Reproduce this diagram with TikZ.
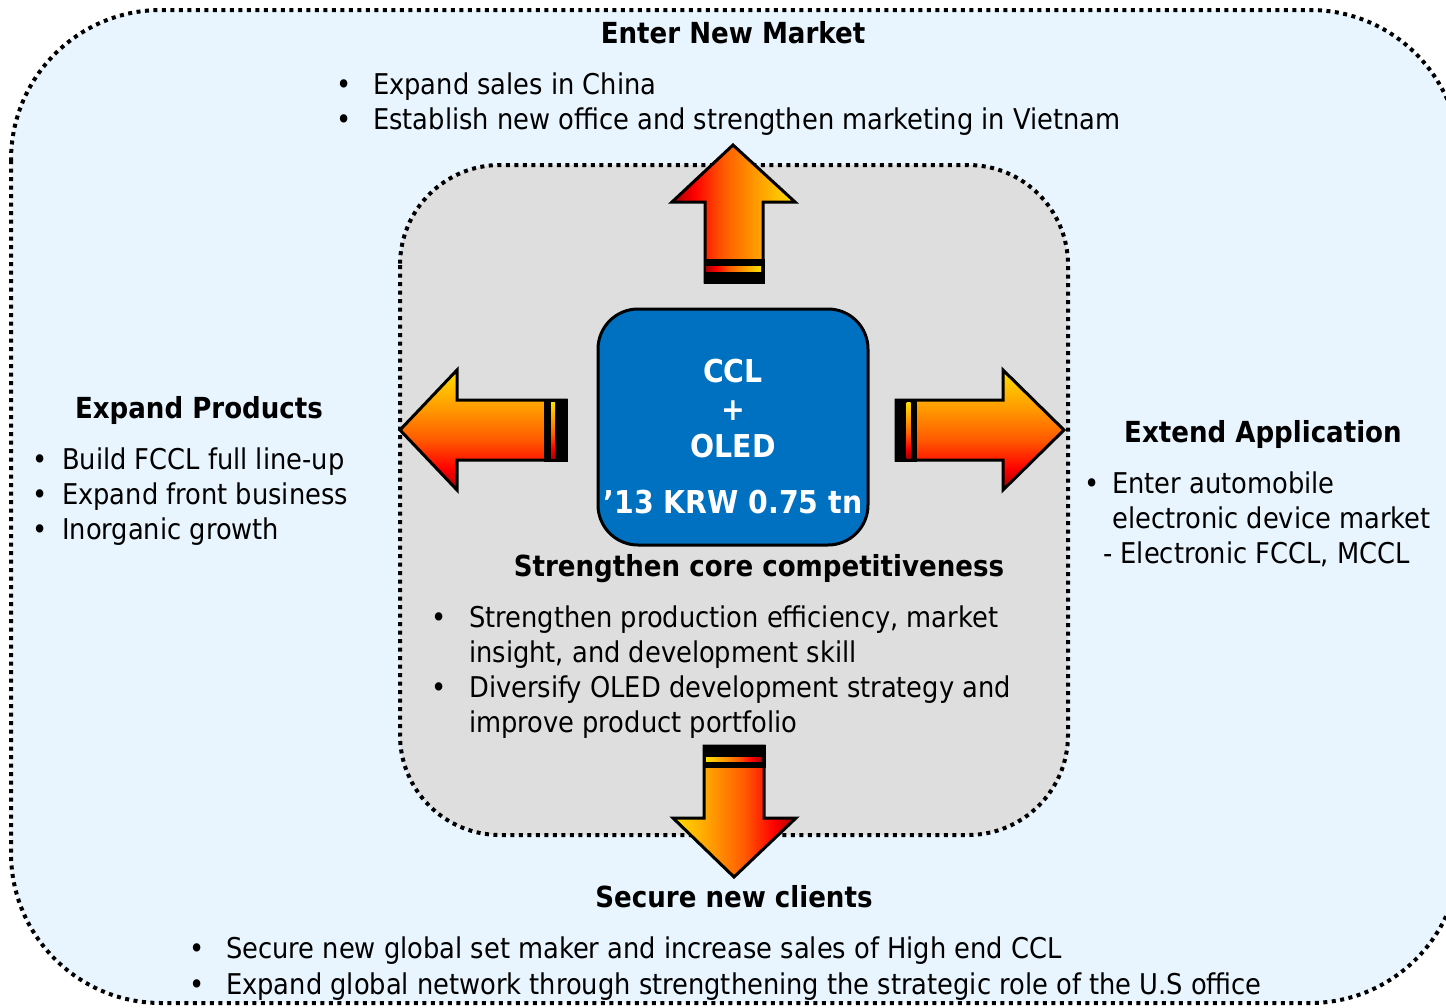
\documentclass[tikz,border=0pt]{standalone}
\usepackage{fontspec}
\setmainfont{DejaVu Sans Condensed}
\definecolor{outerbg}{HTML}{E8F4FE}
\definecolor{innerbg}{HTML}{DEDEDE}
\definecolor{boxblue}{HTML}{0070C0}
\definecolor{gdred}{HTML}{A80000}
\definecolor{gred}{HTML}{FF0000}
\definecolor{gored}{HTML}{FF5A00}
\definecolor{gorng}{HTML}{FF9A00}
\definecolor{gyel}{HTML}{FFE000}
\pgfdeclarehorizontalshading{grh}{100bp}{color(0bp)=(gdred); color(25bp)=(gdred); color(34bp)=(gred); color(46bp)=(gored); color(59bp)=(gorng); color(75bp)=(gyel); color(100bp)=(gyel)}
\pgfdeclarehorizontalshading{grhr}{100bp}{color(0bp)=(gyel); color(25bp)=(gyel); color(41bp)=(gorng); color(54bp)=(gored); color(66bp)=(gred); color(75bp)=(gdred); color(100bp)=(gdred)}
\pgfdeclareverticalshading{grv}{100bp}{color(0bp)=(gdred); color(25bp)=(gdred); color(34bp)=(gred); color(46bp)=(gored); color(59bp)=(gorng); color(75bp)=(gyel); color(100bp)=(gyel)}
\tikzset{
  dotborder/.style={line width=4pt, dash pattern=on 4pt off 4.5pt},
  arrowbody/.style={draw=black, line width=3pt, line join=miter},
  txt/.style={inner sep=0pt, font=\fontsize{28.6}{35}\selectfont, anchor=base west},
  ttl/.style={inner sep=0pt, font=\fontsize{29}{35}\selectfont\bfseries, anchor=base},
  wtxt/.style={inner sep=0pt, font=\fontsize{31.5}{36}\selectfont\bfseries, anchor=base, text=white},
}
\begin{document}
\begin{tikzpicture}[x=1pt,y=-1pt]
\useasboundingbox (0,0) rectangle (1446,1007);
\clip (0,0) rectangle (1446,1007);
% outer box
\path[fill=outerbg, draw=black, dotborder, rounded corners=150pt] (11,10) rectangle (1460,1003);
% inner box
\path[fill=innerbg, draw=black, dotborder, rounded corners=100pt] (400,165) rectangle (1068,835);
% up arrow
\path[arrowbody, shading=grh] (733,145) -- (795,202) -- (763,202) -- (763,282) -- (705,282) -- (705,202) -- (672,202) -- cycle;
\fill[black] (703.5,259) rectangle (764.5,283.5);
\shade[shading=grh] (706,266.5) rectangle (761,271);
% left arrow
\path[arrowbody, shading=grv] (400,430) -- (457,370) -- (457,400) -- (566,400) -- (566,460) -- (457,460) -- (457,490) -- cycle;
\fill[black] (544,398.5) rectangle (567.5,461.5);
\shade[shading=grv] (551,402) rectangle (555,458);
% right arrow
\path[arrowbody, shading=grv] (896,400) -- (1003,400) -- (1003,370) -- (1064,430) -- (1003,490) -- (1003,460) -- (896,460) -- cycle;
\fill[black] (894.5,398.5) rectangle (917,461.5);
\shade[shading=grv] (906.5,402) rectangle (910.5,458);
% down arrow
\path[arrowbody, shading=grhr] (704,746) -- (764,746) -- (764,818) -- (796,818) -- (734,877) -- (673,818) -- (704,818) -- cycle;
\fill[black] (702.5,744.5) rectangle (765.5,768);
\shade[shading=grhr] (706,757) rectangle (762,761);
% center box
\path[fill=boxblue, draw=black, line width=3pt, rounded corners=40pt] (598,309) rectangle (868,545);
\node[wtxt] (ccl) at (733,382) {CCL};
\node[wtxt] (plus) at (733,420) {+};
\node[wtxt] (oled) at (733,457) {OLED};
\node[wtxt] (krw) at (733,513) {’13 KRW 0.75 tn};
% top
\node[ttl] (t1) at (733,43) {Enter New Market};
\node[txt] (t1b1) at (336,94) {•}; \node[txt] (t1l1) at (373,94) {Expand sales in China};
\node[txt] (t1b2) at (336,129) {•}; \node[txt] (t1l2) at (373,129) {Establish new office and strengthen marketing in Vietnam};
% left
\node[ttl] (t2) at (199,418) {Expand Products};
\node[txt] (t2b1) at (32,469) {•}; \node[txt] (t2l1) at (62,469) {Build FCCL full line-up};
\node[txt] (t2b2) at (32,504) {•}; \node[txt] (t2l2) at (62,504) {Expand front business};
\node[txt] (t2b3) at (32,539) {•}; \node[txt] (t2l3) at (62,539) {Inorganic growth};
% right
\node[ttl] (t3) at (1263,442) {Extend Application};
\node[txt] (t3b1) at (1084,493) {•}; \node[txt] (t3l1) at (1112,493) {Enter automobile};
\node[txt] (t3l2) at (1112,528) {electronic device market};
\node[txt] (t3l3) at (1103,563) {- Electronic FCCL, MCCL};
% center
\node[ttl] (t4) at (759,576) {Strengthen core competitiveness};
\node[txt] (t4b1) at (431,627) {•}; \node[txt] (t4l1) at (469,627) {Strengthen production efficiency, market};
\node[txt] (t4l2) at (469,662) {insight, and development skill};
\node[txt] (t4b2) at (431,697) {•}; \node[txt] (t4l3) at (469,697) {Diversify OLED development strategy and};
\node[txt] (t4l4) at (469,732) {improve product portfolio};
% bottom
\node[ttl] (t5) at (734,907) {Secure new clients};
\node[txt] (t5b1) at (189,958) {•}; \node[txt] (t5l1) at (226,958) {Secure new global set maker and increase sales of High end CCL};
\node[txt] (t5b2) at (189,994) {•}; \node[txt] (t5l2) at (226,994) {Expand global network through strengthening the strategic role of the U.S office};
\end{tikzpicture}
\end{document}
